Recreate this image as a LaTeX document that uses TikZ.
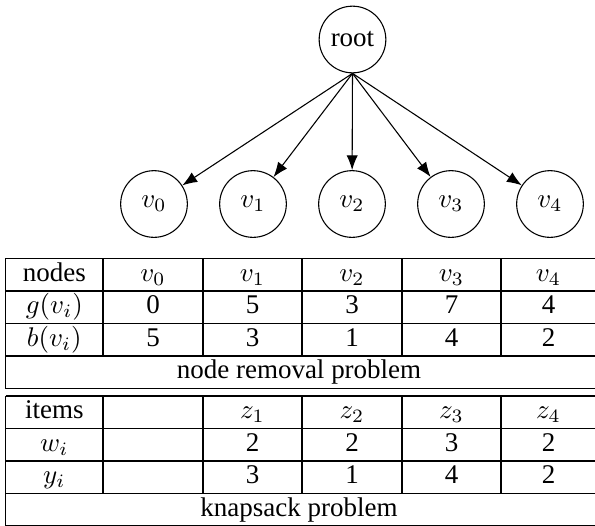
\documentclass[tikz,border=0pt]{standalone}
\usepackage[no-math]{fontspec}
\setmainfont{Liberation Serif}
\usetikzlibrary{arrows.meta}
\begin{document}
\begin{tikzpicture}[x=0.3704pt,y=-0.3704pt,
  vert/.style={circle,draw,line width=0.4pt,minimum size=24.7pt,inner sep=0pt},
  edge/.style={-{Latex[length=5.5pt,width=4.2pt]},line width=0.4pt},
  rule/.style={line width=0.4pt},
  cell/.style={anchor=base,inner sep=0pt}]
\useasboundingbox (0,0) rectangle (595,525);
\clip (0,0) rectangle (595,525);
% tree
\node[vert] (root) at (352.5,39.5) {root};
\node[vert] (n0) at (154,204) {$v_0$};
\node[vert] (n1) at (253,204) {$v_1$};
\node[vert] (n2) at (352,204) {$v_2$};
\node[vert] (n3) at (451,204) {$v_3$};
\node[vert] (n4) at (550,204) {$v_4$};
\foreach \c in {n0,n1,n2,n3,n4} \draw[edge] (root.south) -- (\c);
% table 1 rules
\foreach \y in {258.3,291,323.3,356,388.5} \draw[rule] (5.7,\y) -- (597,\y);
\draw[rule] (5.7,258.3) -- (5.7,388.5);
\foreach \x in {103,203,302,402,501} \draw[rule] (\x,258.3) -- (\x,356);
% table 1 text (baseline = row top + 22.7)
\node[cell] (h0) at (54.3,281) {nodes};
\node[cell] (h1) at (153,281) {$v_0$};
\node[cell] (h2) at (252.5,281) {$v_1$};
\node[cell] (h3) at (352,281) {$v_2$};
\node[cell] (h4) at (451.5,281) {$v_3$};
\node[cell] (h5) at (548.5,281) {$v_4$};
\node[cell] (g0) at (54.3,313.7) {$g(v_i)$};
\node[cell] (g1) at (153,313.7) {0};
\node[cell] (g2) at (252.5,313.7) {5};
\node[cell] (g3) at (352,313.7) {3};
\node[cell] (g4) at (451.5,313.7) {7};
\node[cell] (g5) at (548.5,313.7) {4};
\node[cell] (b0) at (54.3,346) {$b(v_i)$};
\node[cell] (b1) at (153,346) {5};
\node[cell] (b2) at (252.5,346) {3};
\node[cell] (b3) at (352,346) {1};
\node[cell] (b4) at (451.5,346) {4};
\node[cell] (b5) at (548.5,346) {2};
\node[cell] (cap1) at (299,378.7) {node removal problem};
% table 2 rules
\foreach \y in {396,428.5,461,493.5,526} \draw[rule] (5.7,\y) -- (597,\y);
\draw[rule] (5.7,396) -- (5.7,530);
\foreach \x in {103,203,302,402,501} \draw[rule] (\x,396) -- (\x,493.5);
% table 2 text
\node[cell] (i0) at (54.3,418.7) {items};
\node[cell] (i2) at (252.5,418.7) {$z_1$};
\node[cell] (i3) at (352,418.7) {$z_2$};
\node[cell] (i4) at (451.5,418.7) {$z_3$};
\node[cell] (i5) at (548.5,418.7) {$z_4$};
\node[cell] (w0) at (54.3,451.2) {$w_i$};
\node[cell] (w2) at (252.5,451.2) {2};
\node[cell] (w3) at (352,451.2) {2};
\node[cell] (w4) at (451.5,451.2) {3};
\node[cell] (w5) at (548.5,451.2) {2};
\node[cell] (y0) at (54.3,483.7) {$y_i$};
\node[cell] (y2) at (252.5,483.7) {3};
\node[cell] (y3) at (352,483.7) {1};
\node[cell] (y4) at (451.5,483.7) {4};
\node[cell] (y5) at (548.5,483.7) {2};
\node[cell] (cap2) at (299,516.2) {knapsack problem};
\end{tikzpicture}
\end{document}
